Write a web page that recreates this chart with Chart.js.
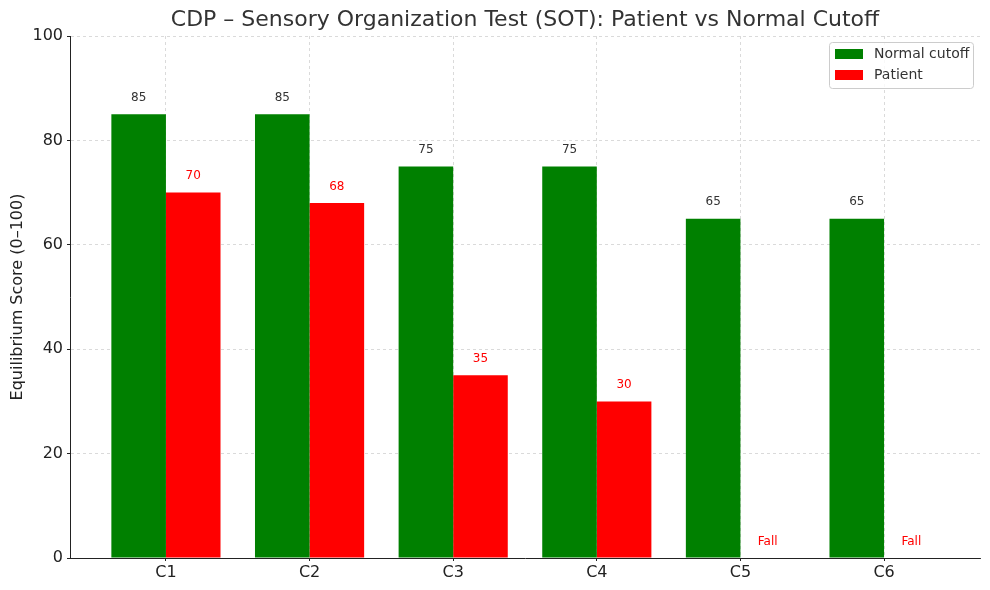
<!DOCTYPE html>
<html>
<head>
<meta charset="utf-8">
<script src="https://cdn.jsdelivr.net/npm/chart.js@4"></script>
<style>
  html, body { margin: 0; padding: 0; background: #fff; }
  #wrap { width: 990px; height: 590px; }
</style>
</head>
<body>
<div id="wrap"><canvas id="grafica" width="990" height="590"></canvas></div>
<script>
// data
const condiciones = ["C1", "C2", "C3", "C4", "C5", "C6"];
const normalCutoff = [85, 85, 75, 75, 65, 65];
const paciente = [70, 68, 35, 30, null, null]; // null = fall
const yTicks = [0, 20, 40, 60, 80, 100];

const VERDE = "#008000";
const ROJO = "#ff0000";
const FUENTE = "'DejaVu Sans', sans-serif";

// ===============================
// labels over the bars
// ===============================
const etiquetasBarras = {
  id: "etiquetasBarras",
  afterDatasetsDraw(chart) {
    const { ctx, scales } = chart;
    ctx.save();
    ctx.font = "12px " + FUENTE;
    ctx.textAlign = "center";
    ctx.textBaseline = "bottom";
    chart.data.datasets.forEach((ds, d) => {
      const meta = chart.getDatasetMeta(d);
      ds.data.forEach((p, i) => {
        const el = meta.data[i];
        const x = el && isFinite(el.x) ? el.x : scales.x.getPixelForValue(i + (d === 0 ? -0.19 : 0.19));
        const v = p.y;
        const txt = v === null ? "Fall" : String(v);
        ctx.fillStyle = d === 0 ? "#333" : ROJO;
        ctx.fillText(txt, x, scales.y.getPixelForValue((v || 0) + 2));
      });
    });
    ctx.restore();
  }
};

// ===============================
// title + legend box
// ===============================
const decoracion = {
  id: "decoracion",
  afterDraw(chart) {
    const { ctx, chartArea } = chart;
    ctx.save();
    ctx.fillStyle = "#333";
    ctx.font = "22px " + FUENTE;
    ctx.textAlign = "center";
    ctx.textBaseline = "middle";
    ctx.fillText("CDP – Sensory Organization Test (SOT): Patient vs Normal Cutoff", (chartArea.left + chartArea.right) / 2, 20);

    // legend
    const bx = 829, by = 42, bw = 144, bh = 46;
    ctx.beginPath();
    ctx.roundRect(bx + 0.5, by + 0.5, bw, bh, 3);
    ctx.fillStyle = "rgba(255,255,255,0.8)";
    ctx.fill();
    ctx.strokeStyle = "#ccc";
    ctx.lineWidth = 1;
    ctx.stroke();
    ctx.font = "14px " + FUENTE;
    ctx.textAlign = "left";
    chart.data.datasets.forEach((ds, d) => {
      const cy = by + 12 + d * 21;
      ctx.fillStyle = ds.backgroundColor;
      ctx.fillRect(bx + 6, cy - 5, 28, 10);
      ctx.fillStyle = "#333";
      ctx.fillText(ds.label, bx + 45, cy);
    });
    ctx.restore();
  }
};

const ctx = document.getElementById("grafica").getContext("2d");

new Chart(ctx, {
  type: "bar",
  data: {
    datasets: [
      {
        label: "Normal cutoff",
        data: normalCutoff.map((v, i) => ({ x: i, y: v })),
        backgroundColor: VERDE
      },
      {
        label: "Patient",
        data: paciente.map((v, i) => ({ x: i, y: v })),
        backgroundColor: ROJO
      }
    ]
  },
  options: {
    responsive: false,
    animation: false,
    devicePixelRatio: 1,
    layout: { padding: { left: 0, top: 36, right: 10, bottom: 0 } },
    datasets: { bar: { barPercentage: 1, categoryPercentage: 0.76 } },
    plugins: {
      legend: { display: false },
      title: { display: false },
      tooltip: { enabled: false }
    },
    scales: {
      x: {
        type: "linear",
        min: -0.668,
        max: 5.668,
        offset: false,
        z: 1,
        afterBuildTicks: s => { s.ticks = condiciones.map((c, i) => ({ value: i })); },
        afterFit: s => { s.height = 32; },
        ticks: {
          color: "#222",
          font: { family: FUENTE, size: 16 },
          padding: 2,
          callback: v => condiciones[v]
        },
        grid: {
          offset: false,
          color: "rgba(176,176,176,0.6)",
          lineWidth: 0.8,
          tickColor: "#222",
          tickLength: 3,
          tickWidth: 1
        },
        border: { display: true, color: "#222", width: 1, dash: [3, 3] }
      },
      y: {
        min: 0,
        max: 100,
        z: 1,
        afterBuildTicks: s => { s.ticks = yTicks.map(v => ({ value: v })); },
        afterFit: s => { s.width = 70; },
        ticks: {
          color: "#222",
          font: { family: FUENTE, size: 16 },
          padding: 4
        },
        grid: {
          color: "rgba(176,176,176,0.6)",
          lineWidth: 0.8,
          tickColor: "#222",
          tickLength: 3,
          tickWidth: 1
        },
        border: { display: true, color: "#222", width: 1, dash: [3, 3] },
        title: {
          display: true,
          text: "Equilibrium Score (0–100)",
          color: "#222",
          font: { family: FUENTE, size: 16 },
          padding: { top: 8, bottom: 0 }
        }
      }
    }
  },
  plugins: [etiquetasBarras, decoracion]
});
</script>
</body>
</html>
